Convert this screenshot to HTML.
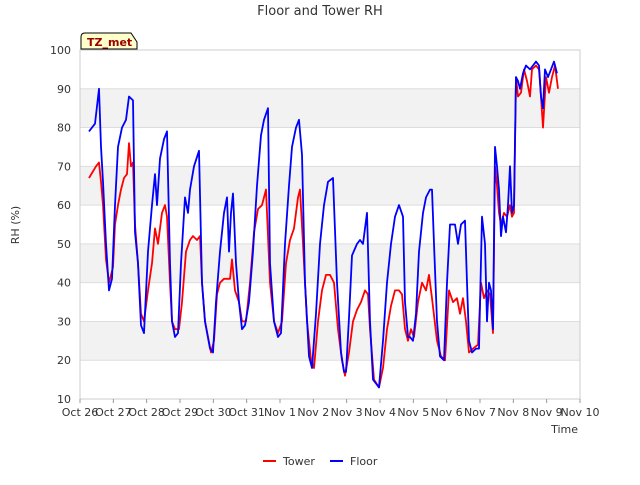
<!DOCTYPE html>
<html><head><meta charset="utf-8"><style>
body{margin:0;background:#fff;font-family:"Liberation Sans","DejaVu Sans",sans-serif;}
</style></head><body>
<svg id="c" width="640" height="480" xmlns="http://www.w3.org/2000/svg" font-family="DejaVu Sans, Liberation Sans, sans-serif">
<text x="320" y="15" text-anchor="middle" font-size="13" fill="#333">Floor and Tower RH</text>
<g id="bands"></g><g id="grid"></g>
<rect x="80" y="50" width="500" height="349" fill="none" stroke="#ccc"/>
<g id="ticks"></g><g id="series"></g>
<text x="19" y="225" text-anchor="middle" font-size="11" fill="#333" transform="rotate(-90 19 225)">RH (%)</text>
<text x="578" y="433" text-anchor="end" font-size="11" fill="#333">Time</text>
<g>
<path d="M81,49 L81,37 Q81,33 85,33 L131,33 L137,42 L137,49 Z" fill="#ffffcc" stroke="#000"/>
<text x="87" y="46" font-size="11" font-weight="bold" fill="#990000">TZ_met</text></g>
<g>
<g><line x1="263" y1="461" x2="276" y2="461" stroke="#f00" stroke-width="2"/><text x="283" y="465" font-size="11" fill="#333">Tower</text></g>
<g><line x1="330" y1="461" x2="343" y2="461" stroke="#00f" stroke-width="2"/><text x="350" y="465" font-size="11" fill="#333">Floor</text></g>
</g>
</svg>
<script>
const xTickLabels=["Oct 26","Oct 27","Oct 28","Oct 29","Oct 30","Oct 31","Nov 1","Nov 2","Nov 3","Nov 4","Nov 5","Nov 6","Nov 7","Nov 8","Nov 9","Nov 10"];
const yTicks=[10,20,30,40,50,60,70,80,90,100];
const floorDays=[0.27,0.45,0.57,0.63,0.69,0.78,0.87,0.96,1.05,1.14,1.26,1.38,1.47,1.59,1.65,1.74,1.83,1.92,2.04,2.16,2.25,2.31,2.4,2.52,2.61,2.7,2.76,2.85,2.94,3.03,3.15,3.24,3.3,3.42,3.57,3.66,3.75,3.9,3.99,4.08,4.2,4.32,4.41,4.47,4.53,4.59,4.68,4.77,4.86,4.95,5.07,5.19,5.31,5.43,5.52,5.64,5.7,5.82,5.94,6.03,6.15,6.27,6.36,6.48,6.57,6.66,6.75,6.87,6.96,7.08,7.2,7.32,7.44,7.59,7.71,7.83,7.92,7.98,8.07,8.16,8.31,8.4,8.49,8.61,8.7,8.79,8.88,8.97,9.09,9.21,9.33,9.45,9.57,9.69,9.75,9.84,9.9,9.99,10.08,10.17,10.29,10.38,10.5,10.56,10.62,10.71,10.8,10.92,11.01,11.1,11.25,11.34,11.43,11.55,11.61,11.67,11.76,11.88,11.97,12.06,12.15,12.21,12.27,12.33,12.39,12.45,12.51,12.57,12.63,12.69,12.78,12.84,12.9,12.96,13.02,13.08,13.14,13.2,13.29,13.38,13.5,13.59,13.68,13.77,13.83,13.89,13.95,14.04,14.13,14.22,14.31];
const floorRH=[79,81,90,75,66,50,38,41,60,75,80,82,88,87,53,45,29,27,48,60,68,60,72,77,79,45,30,26,27,45,62,58,64,70,74,40,30,23,22,35,48,58,62,48,58,63,45,35,28,29,35,48,65,78,82,85,45,30,26,27,50,65,75,80,82,73,40,21,18,32,50,60,66,67,40,22,17,17,31,47,50,51,50,58,30,15,14,13,25,40,50,57,60,57,35,26,26,25,32,48,58,62,64,64,50,30,21,20,40,55,55,50,55,56,40,25,22,23,23,57,50,30,40,38,28,75,70,64,52,57,53,60,70,58,60,93,92,90,94,96,95,96,97,96,88,85,95,93,95,97,94];
const towerDays=[0.27,0.48,0.57,0.63,0.69,0.78,0.87,0.99,1.05,1.14,1.23,1.32,1.41,1.47,1.53,1.59,1.65,1.74,1.83,1.92,2.04,2.16,2.25,2.34,2.46,2.55,2.61,2.7,2.76,2.85,2.97,3.06,3.18,3.3,3.39,3.51,3.6,3.66,3.75,3.93,4.02,4.11,4.2,4.32,4.5,4.56,4.65,4.77,4.86,4.98,5.1,5.22,5.34,5.46,5.58,5.7,5.82,5.94,6.06,6.18,6.3,6.42,6.54,6.6,6.69,6.81,6.93,7.02,7.14,7.26,7.38,7.5,7.62,7.74,7.86,7.95,8.07,8.19,8.31,8.43,8.55,8.64,8.7,8.82,8.97,9.09,9.21,9.33,9.45,9.57,9.66,9.75,9.84,9.93,10.02,10.14,10.26,10.38,10.47,10.56,10.71,10.83,10.95,11.07,11.19,11.31,11.4,11.49,11.58,11.67,11.79,11.94,12.03,12.12,12.21,12.3,12.39,12.45,12.51,12.57,12.63,12.72,12.81,12.9,12.96,13.02,13.08,13.14,13.23,13.32,13.41,13.5,13.56,13.68,13.77,13.83,13.89,13.98,14.07,14.16,14.25,14.34];
const towerRH=[67,70,71,66,60,46,40,44,55,60,64,67,68,76,70,71,55,45,32,30,38,45,54,50,58,60,57,40,30,28,28,35,48,51,52,51,52,40,30,22,25,37,40,41,41,46,38,35,30,30,40,53,59,60,64,40,30,27,30,45,51,54,62,64,50,30,20,18,30,38,42,42,40,28,20,16,22,30,33,35,38,37,28,15,13,18,28,34,38,38,37,28,25,28,26,35,40,38,42,36,25,21,20,38,35,36,32,36,30,22,23,24,40,36,38,37,27,70,65,58,55,58,57,60,57,58,93,88,89,95,92,88,95,96,95,88,80,93,89,93,96,90];
const NS="http://www.w3.org/2000/svg";
const X0=80,X1=580,Y0=399,Y1=50;
function xs(d){return X0+d*(X1-X0)/15;}
function ys(v){return Y0-(v-10)*(Y0-Y1)/90;}
const bands=document.getElementById('bands'),grid=document.getElementById('grid'),ticks=document.getElementById('ticks'),series=document.getElementById('series');
function mk(t,a,p){const e=document.createElementNS(NS,t);for(const k in a)e.setAttribute(k,a[k]);p.appendChild(e);return e;}
for(let i=0;i<yTicks.length-1;i++){if(i%2===1){const r=mk('rect',{x:X0,y:ys(yTicks[i+1]),width:X1-X0,height:ys(yTicks[i])-ys(yTicks[i+1]),fill:'#f2f2f2'},bands);

}}
yTicks.forEach(v=>{const l=mk('line',{x1:X0,x2:X1,y1:ys(v),y2:ys(v),stroke:'#ddd'},grid);


const t=mk('text',{x:X0-9,y:ys(v)+4,'text-anchor':'end','font-size':11,fill:'#333'},ticks);t.textContent=v;

});
xTickLabels.forEach((s,i)=>{const tk=mk('line',{x1:xs(i),x2:xs(i),y1:Y0,y2:Y0+4,stroke:'#999'},ticks);


const t=mk('text',{x:xs(i),y:Y0+17,'text-anchor':'middle','font-size':11,fill:'#333'},ticks);t.textContent=s;

});
function line(days,vals,col,name){const pts=days.map((d,i)=>xs(d).toFixed(1)+','+ys(vals[i]).toFixed(1)).join(' ');
const p=mk('polyline',{points:pts,fill:'none',stroke:col,'stroke-width':1.8,'stroke-linejoin':'round'},series);

}
line(towerDays,towerRH,'#ff0000','tower-line');
line(floorDays,floorRH,'#0000ff','floor-line');
</script>
</body></html>
